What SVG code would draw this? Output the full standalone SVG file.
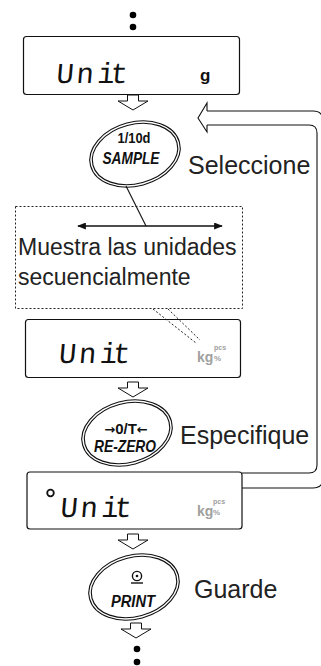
<svg xmlns="http://www.w3.org/2000/svg" xmlns:xlink="http://www.w3.org/1999/xlink" width="321" height="666" viewBox="0 0 321 666">
<style>
.ol{fill:none;stroke:#111;stroke-width:1.1}
.box{fill:none;stroke:#111;stroke-width:1.2}
.ha{fill:#fff;stroke:#111;stroke-width:1}
.dot{fill:#000}
.seg{font-family:"Liberation Mono","DejaVu Sans Mono",monospace;font-size:29px;fill:#111}
.unitg{font-family:"Liberation Sans",Arial,sans-serif;font-weight:bold;font-size:17px;fill:#111}
.kg{font-family:"Liberation Sans",Arial,sans-serif;font-weight:bold;fill:#a0a0a0}
.lbl{font-family:"Liberation Sans",Arial,sans-serif;font-size:25px;fill:#222}
.note{font-family:"Liberation Sans",Arial,sans-serif;font-size:23px;fill:#222}
.bt{font-family:"Liberation Sans",Arial,sans-serif;font-weight:bold;fill:#111;text-anchor:middle}
.bti{font-family:"Liberation Sans",Arial,sans-serif;font-weight:bold;font-style:italic;fill:#111;text-anchor:middle}
.dash{fill:none;stroke:#222;stroke-width:1;stroke-dasharray:2 2}
</style>
<defs>
<g id="btn">
<ellipse rx="46" ry="32" transform="rotate(-15)" class="ol"/>
<ellipse rx="43.5" ry="29.5" transform="rotate(-15)" class="ol"/>
</g>
<path id="harrow" d="M-5.5,0 H5.5 V6 H15 L0,15 L-15,6 H-5.5 Z" class="ha"/>
<marker id="ah" viewBox="0 0 10 8" refX="9" refY="4" markerWidth="9" markerHeight="7" markerUnits="userSpaceOnUse" orient="auto-start-reverse">
<path d="M0,0 L10,4 L0,8 Z" fill="#111"/>
</marker>
</defs>

<g id="connectors">
<circle cx="133" cy="15" r="3.3" class="dot"/>
<circle cx="133" cy="27" r="3.3" class="dot"/>
<use xlink:href="#harrow" href="#harrow" x="133" y="95"/>
<use xlink:href="#harrow" href="#harrow" x="133" y="382"/>
<use xlink:href="#harrow" href="#harrow" x="133" y="534"/>
<use xlink:href="#harrow" href="#harrow" x="136" y="623"/>
<circle cx="137" cy="649" r="3.3" class="dot"/>
<circle cx="137" cy="662" r="3.3" class="dot"/>
<line x1="126" y1="186" x2="146" y2="226" stroke="#111" stroke-width="1.1"/>
<line x1="78" y1="226" x2="222" y2="226" stroke="#111" stroke-width="1.3" marker-start="url(#ah)" marker-end="url(#ah)"/>
<path d="M153,309 L196,343 M168,309 L200,340" class="dash"/>
<path d="M207,111 H313 Q323,111 323,121 V478 Q323,488 313,488 H242 M207,125 H309 Q317,125 317,133 V465 Q317,473 309,473 H242 M207,111 V103 L198,118 L207,132 V125" class="ol"/>
</g>

<g id="display1">
<rect x="23.5" y="36.5" width="216" height="58" rx="3" class="box"/>
<text class="seg" x="56 76 97 110" y="83" transform="skewX(-5) translate(7,0)">Unit</text>
<text class="unitg" x="200" y="81">g</text>
</g>

<g id="btn-sample">
<use xlink:href="#btn" href="#btn" transform="translate(135,154)"/>
<text class="bt" x="134" y="143" font-size="15" textLength="33" lengthAdjust="spacingAndGlyphs">1/10d</text>
<text class="bti" x="131" y="164" font-size="17" textLength="57" lengthAdjust="spacingAndGlyphs">SAMPLE</text>
</g>
<text id="lbl-select" class="lbl" x="188" y="174">Seleccione</text>

<g id="note">
<rect x="15.5" y="206.5" width="227" height="102" class="dash"/>
<text class="note" x="18" y="255">Muestra las unidades</text>
<text class="note" x="18" y="285">secuencialmente</text>
</g>

<g id="display2">
<rect x="25.5" y="319.5" width="215" height="58" rx="3" class="box"/>
<text class="seg" x="58 78 99 112" y="363" transform="skewX(-5) translate(32,0)">Unit</text>
<text class="kg" x="197" y="362" font-size="14">kg</text>
<text class="kg" x="214" y="350" font-size="7">pcs</text>
<text class="kg" x="214" y="361" font-size="8">%</text>
</g>

<g id="btn-rezero">
<use xlink:href="#btn" href="#btn" transform="translate(127,433)"/>
<text class="bt" x="126" y="434" font-size="15"><tspan font-family="DejaVu Sans" font-size="13">→</tspan>0/T<tspan font-family="DejaVu Sans" font-size="13">←</tspan></text>
<text class="bti" x="125" y="452" font-size="17" textLength="62" lengthAdjust="spacingAndGlyphs">RE-ZERO</text>
</g>
<text id="lbl-spec" class="lbl" x="180" y="444">Especifique</text>

<g id="display3">
<rect x="27" y="472" width="215" height="57" rx="3" class="box"/>
<circle cx="50.5" cy="493" r="3.3" fill="none" stroke="#111" stroke-width="1.8"/>
<text class="seg" x="60 80 101 114" y="517" transform="skewX(-5) translate(45,0)">Unit</text>
<text class="kg" x="197" y="516" font-size="14">kg</text>
<text class="kg" x="213" y="504" font-size="7">pcs</text>
<text class="kg" x="213" y="515" font-size="8">%</text>
</g>

<g id="btn-print">
<use xlink:href="#btn" href="#btn" transform="translate(134,587)"/>
<circle cx="137" cy="576" r="4.6" fill="none" stroke="#111" stroke-width="1.4"/>
<circle cx="137" cy="576" r="1.3" fill="#111"/>
<line x1="131" y1="583" x2="143" y2="583" stroke="#111" stroke-width="1.4"/>
<text class="bti" x="133" y="607" font-size="16" textLength="44" lengthAdjust="spacingAndGlyphs">PRINT</text>
</g>
<text id="lbl-save" class="lbl" x="194" y="598">Guarde</text>
</svg>
